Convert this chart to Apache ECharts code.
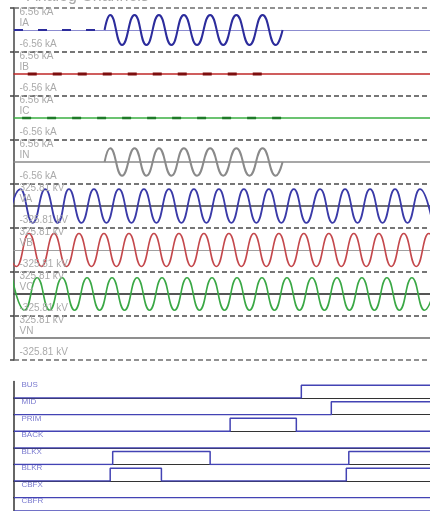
<!DOCTYPE html>
<html>
<head>
<meta charset="utf-8">
<script src="https://cdn.jsdelivr.net/npm/echarts@6/dist/echarts.min.js"></script>
<style>
html, body { margin: 0; padding: 0; background: #fff; }
#chart { width: 430px; height: 511px; }
</style>
</head>
<body>
<div id="chart"></div>
<script>
// 时间轴 (ms)
const tMax = 333;

// 模拟量通道
const analogNames = ['IA', 'IB', 'IC', 'IN', 'VA', 'VB', 'VC', 'VN'];
const analogMax = [6.56, 6.56, 6.56, 6.56, 325.81, 325.81, 325.81, 325.81];
const analogUnit = ['kA', 'kA', 'kA', 'kA', 'kV', 'kV', 'kV', 'kV'];

// 故障期间电流 IA / IN 的极值点
const faultT = [72.5, 77, 86.5, 96.5, 106, 116, 126, 136, 146.5, 157, 167.5, 178, 188.5, 199, 209.5, 215];
const iaVal = [0, 4.5, -4.5, 4.5, -4.5, 4.5, -4.5, 4.5, -4.5, 4.5, -4.5, 4.5, -4.5, 4.5, -4.5, 0];
const inVal = [0, 4.1, -4.1, 4.1, -4.1, 4.1, -4.1, 4.1, -4.1, 4.1, -4.1, 4.1, -4.1, 4.1, -4.1, 0];

// 小幅纹波段 (起止时刻)
const iaPreT = [0, 72.5];
const ibRippleT = [11, 199];
const icRippleT = [6.5, 215];

// 电压极值点
const vaT = [-5, 5, 15, 25, 35, 44, 54, 64, 74, 84, 94, 104, 114, 124, 134, 144, 154, 164, 174, 184, 194, 204, 214, 224, 234, 245, 255, 265, 275, 285, 295, 305, 315, 325, 335];
const vaVal = [-250, 250, -250, 250, -250, 250, -250, 250, -250, 250, -250, 250, -250, 250, -250, 250, -250, 250, -250, 250, -250, 250, -250, 250, -250, 250, -250, 250, -250, 250, -250, 250, -250, 250, -250];
const vbT = [-8, 2, 12, 22, 32, 42, 52, 62, 72, 82, 92, 102, 112, 122, 132, 142, 152, 162, 172, 182, 192, 202, 212, 222, 232, 242, 252, 262, 272, 282, 292, 302, 312, 322, 332, 342];
const vbVal = [245, -245, 245, -245, 245, -245, 245, -245, 245, -245, 245, -245, 245, -245, 245, -245, 245, -245, 245, -245, 245, -245, 245, -245, 245, -245, 245, -245, 245, -245, 245, -245, 245, -245, 245, -245];
const vcT = [-1.5, 8.5, 18.5, 28.5, 38.5, 48.5, 58.5, 68.5, 78.5, 88.5, 98.5, 108.5, 118.5, 128.5, 138.5, 148.5, 158.5, 168.5, 178.5, 188.5, 198.5, 208.5, 218.5, 228.5, 238.5, 248.5, 258.5, 268.5, 278.5, 288.5, 298.5, 308.5, 318.5, 328.5, 338.5];
const vcVal = [240, -240, 240, -240, 240, -240, 240, -240, 240, -240, 240, -240, 240, -240, 240, -240, 240, -240, 240, -240, 240, -240, 240, -240, 240, -240, 240, -240, 240, -240, 240, -240, 240, -240, 240];

// 开关量通道
const digitalNames = ['BUS', 'MID', 'PRIM', 'BACK', 'BLKX', 'BLKR', 'CBFX', 'CBFR'];
const digitalEdges = [
    [0, 230],
    [0, 254],
    [0, 173, 226],
    [0],
    [0, 79, 157, 268],
    [0, 77, 118, 266],
    [0],
    [0]
];
const digitalStates = [
    [0, 1],
    [0, 1],
    [0, 1, 0],
    [0],
    [0, 1, 0, 1],
    [0, 1, 0, 1],
    [0],
    [0]
];

function pairs(ts, vs) {
    const out = [];
    for (let i = 0; i < ts.length; i++) {
        out.push([ts[i], vs[i]]);
    }
    return out;
}

const FONT = 'Liberation Sans';
const centerColors = ['#8c8cd0', '#c02828', '#3bb043', '#8a8a8a', '#444', '#a0a0a0', '#555', '#888'];
const centerWidths = [1, 1.5, 1.5, 1.5, 1.5, 1, 2, 1.5];

const chart = echarts.init(document.getElementById('chart'));

const grids = [];
const xAxes = [];
const yAxes = [];
const series = [];

// 模拟量面板
const aTop = 8;
const aH = 44;

function panelMarks(i) {
    const m = analogMax[i];
    const txt = { color: '#aaa', fontSize: 10, fontFamily: FONT };
    return {
        markLine: {
            silent: true,
            animation: false,
            symbol: ['none', 'none'],
            label: { show: false },
            lineStyle: { color: '#6e6e6e', type: [5, 3], width: 1.6 },
            data: [{ yAxis: m }, { yAxis: -m }]
        },
        markPoint: {
            silent: true,
            animation: false,
            symbol: 'rect',
            symbolSize: 1,
            itemStyle: { color: 'rgba(0,0,0,0)' },
            label: Object.assign({ show: true, position: 'right', distance: 5 }, txt),
            data: [
                { coord: [0, m], label: { formatter: m + ' ' + analogUnit[i], offset: [0, 4] } },
                { coord: [0, 0], label: { formatter: analogNames[i], offset: [0, -7] } },
                { coord: [0, -m], label: { formatter: '-' + m + ' ' + analogUnit[i], offset: [0, -8] } }
            ]
        }
    };
}

analogNames.forEach(function(name, i) {
    grids.push({ left: 14, right: 0, top: aTop + aH * i, height: aH });
    xAxes.push({
        gridIndex: i, type: 'value', min: 0, max: tMax,
        axisLine: { onZero: true, lineStyle: { color: centerColors[i], width: centerWidths[i] } },
        axisTick: { show: false }, axisLabel: { show: false }, splitLine: { show: false }
    });
    yAxes.push({
        gridIndex: i, type: 'value', min: -analogMax[i], max: analogMax[i],
        axisLine: { show: true, lineStyle: { color: '#444', width: 1.5 } },
        axisTick: { show: true, length: 4, customValues: [-analogMax[i], analogMax[i]], lineStyle: { color: '#444', width: 1.5 } },
        axisLabel: { show: false }, splitLine: { show: false }
    });
});

function lineSeries(idx, data, color, width, extra) {
    return Object.assign({
        type: 'line', xAxisIndex: idx, yAxisIndex: idx, data: data,
        showSymbol: false, symbol: 'none', animation: false, silent: true,
        lineStyle: { color: color, width: width }
    }, extra || {});
}

// IA
series.push(lineSeries(0, pairs(faultT, iaVal), '#2c2c9c', 2, Object.assign({ smooth: true }, panelMarks(0))));
series.push(lineSeries(0, pairs(iaPreT, [0, 0]), '#2c2c9c', 2, { lineStyle: { color: '#2c2c9c', width: 2, type: [9, 15] } }));
// IB
series.push(lineSeries(1, pairs(ibRippleT, [0, 0]), '#7d0d0d', 3, Object.assign({ lineStyle: { color: '#7d0d0d', width: 3, type: [9, 16] } }, panelMarks(1))));
// IC
series.push(lineSeries(2, pairs(icRippleT, [0, 0]), '#1e7a28', 2.5, Object.assign({ lineStyle: { color: '#1e7a28', width: 2.5, type: [9, 16] } }, panelMarks(2))));
// IN
series.push(lineSeries(3, pairs(faultT, inVal), '#8a8a8a', 2, Object.assign({ smooth: true }, panelMarks(3))));
// VA VB VC
series.push(lineSeries(4, pairs(vaT, vaVal), '#3a3aa8', 1.8, Object.assign({ smooth: true }, panelMarks(4))));
series.push(lineSeries(5, pairs(vbT, vbVal), '#c4484c', 1.6, Object.assign({ smooth: true }, panelMarks(5))));
series.push(lineSeries(6, pairs(vcT, vcVal), '#3aa845', 1.6, Object.assign({ smooth: true }, panelMarks(6))));
// VN
series.push(lineSeries(7, pairs([0, tMax], [0, 0]), '#888', 1.5, panelMarks(7)));

// 开关量面板
const dTop = 381.5;
const dH = 16.6;
digitalNames.forEach(function(name, k) {
    const i = analogNames.length + k;
    grids.push({ left: 14, right: 0, top: dTop + dH * k, height: dH });
    xAxes.push({
        gridIndex: i, type: 'value', min: 0, max: tMax,
        axisLine: { onZero: true, lineStyle: { color: '#333', width: 1.2 } },
        axisTick: { show: false }, axisLabel: { show: false }, splitLine: { show: false }
    });
    yAxes.push({
        gridIndex: i, type: 'value', min: 0, max: 1.28,
        axisLine: { show: true, lineStyle: { color: '#333', width: 1.5 } },
        axisTick: { show: false }, axisLabel: { show: false }, splitLine: { show: false }
    });
    const ts = digitalEdges[k].concat([tMax]);
    const vs = digitalStates[k].concat([digitalStates[k][digitalStates[k].length - 1]]);
    series.push(lineSeries(i, pairs(ts, vs), '#4343b4', 1.5, {
        step: 'end',
        markPoint: {
            silent: true, animation: false, symbol: 'rect', symbolSize: 1,
            itemStyle: { color: 'rgba(0,0,0,0)' },
            label: { show: true, position: 'right', distance: 7, color: '#7b7bcf', fontSize: 8, fontFamily: FONT, formatter: name },
            data: [{ coord: [0, 1] }]
        }
    }));
});

chart.setOption({
    backgroundColor: '#fff',
    animation: false,
    title: {
        text: 'Analog Channels',
        left: 22,
        top: -16,
        textStyle: { color: '#aaa', fontSize: 16, fontWeight: 'normal', fontFamily: FONT }
    },
    grid: grids,
    xAxis: xAxes,
    yAxis: yAxes,
    series: series
});
</script>
</body>
</html>
